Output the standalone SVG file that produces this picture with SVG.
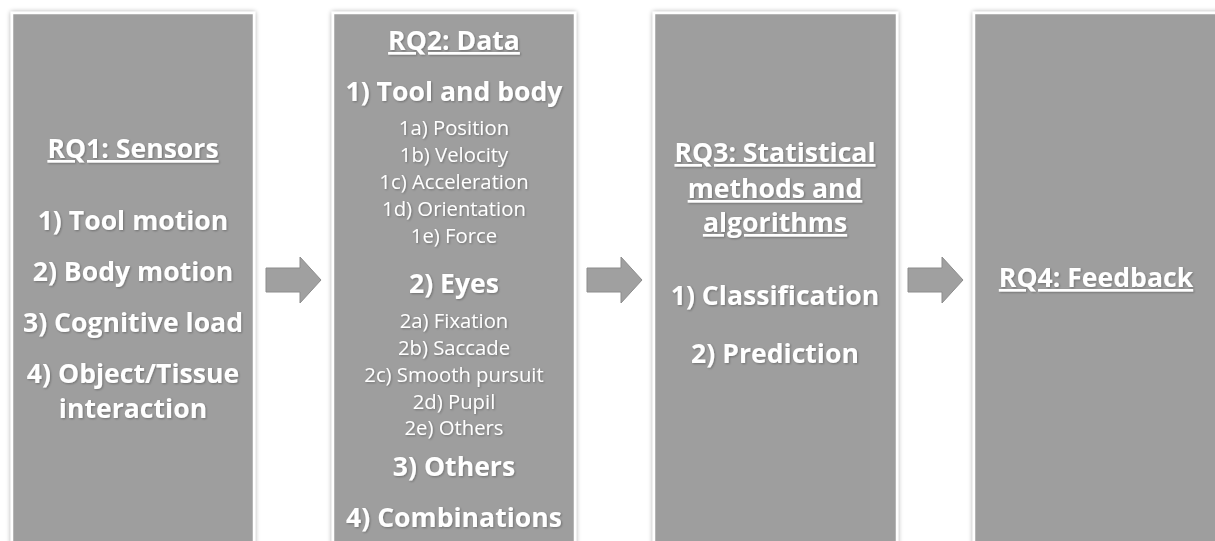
<svg xmlns="http://www.w3.org/2000/svg" width="1215" height="541" viewBox="0 0 1215 541">
<defs>
<filter id="sh" x="-10%" y="-10%" width="120%" height="120%">
<feGaussianBlur in="SourceAlpha" stdDeviation="2.5"/>
<feOffset dx="0" dy="0" result="b"/>
<feComponentTransfer><feFuncA type="linear" slope="0.35"/></feComponentTransfer>
<feMerge><feMergeNode/><feMergeNode in="SourceGraphic"/></feMerge>
</filter>
<filter id="ts" x="-5%" y="-20%" width="110%" height="140%">
<feGaussianBlur in="SourceAlpha" stdDeviation="0.8"/>
<feOffset dx="1" dy="1"/>
<feComponentTransfer><feFuncA type="linear" slope="0.3"/></feComponentTransfer>
<feMerge><feMergeNode/><feMergeNode in="SourceGraphic"/></feMerge>
</filter>
</defs>
<style>
.box{fill:#9e9e9e;stroke:#ffffff;stroke-width:2.5;filter:url(#sh)}
.arrow{fill:#a0a0a0;stroke:#8c8c8c;stroke-width:1}
text{font-family:"Open Sans",Lato,sans-serif;fill:#ffffff;text-anchor:middle}
.t{font-weight:bold;font-size:26.6px;text-decoration:underline}
.h{font-weight:bold;font-size:26.6px}
.s{font-size:20.3px}
</style>
<rect width="1215" height="541" fill="#ffffff"/>
<g id="connectors">
<polygon class="arrow" points="266,268 300,268 300,257 321,280 300,303 300,292 266,292"/>
<polygon class="arrow" points="587,268 621,268 621,257 642,280 621,303 621,292 587,292"/>
<polygon class="arrow" points="908,268 942,268 942,257 963,280 942,303 942,292 908,292"/>
</g>
<g id="rq1">
<rect class="box" x="12" y="13" width="242" height="540"/>
<g filter="url(#ts)">
<text class="t" x="133" y="158">RQ1: Sensors</text>
<text class="h" x="133" y="230">1) Tool motion</text>
<text class="h" x="133" y="281">2) Body motion</text>
<text class="h" x="133" y="332">3) Cognitive load</text>
<text class="h" x="133" y="383">4) Object/Tissue</text>
<text class="h" x="133" y="418">interaction</text>
</g>
</g>
<g id="rq2">
<rect class="box" x="333" y="13" width="242" height="540"/>
<g filter="url(#ts)">
<text class="t" x="454" y="50">RQ2: Data</text>
<text class="h" x="454" y="101">1) Tool and body</text>
<text class="s" x="454" y="135">1a) Position</text>
<text class="s" x="454" y="162">1b) Velocity</text>
<text class="s" x="454" y="189">1c) Acceleration</text>
<text class="s" x="454" y="216">1d) Orientation</text>
<text class="s" x="454" y="243">1e) Force</text>
<text class="h" x="454" y="293">2) Eyes</text>
<text class="s" x="454" y="328">2a) Fixation</text>
<text class="s" x="454" y="355">2b) Saccade</text>
<text class="s" x="454" y="382">2c) Smooth pursuit</text>
<text class="s" x="454" y="409">2d) Pupil</text>
<text class="s" x="454" y="435">2e) Others</text>
<text class="h" x="454" y="476">3) Others</text>
<text class="h" x="454" y="527">4) Combinations</text>
</g>
</g>
<g id="rq3">
<rect class="box" x="654" y="13" width="243" height="540"/>
<g filter="url(#ts)">
<text class="t" x="775" y="162">RQ3: Statistical</text>
<text class="t" x="775" y="198">methods and</text>
<text class="t" x="775" y="232">algorithms</text>
<text class="h" x="775" y="305">1) Classification</text>
<text class="h" x="775" y="363">2) Prediction</text>
</g>
</g>
<g id="rq4">
<rect class="box" x="974" y="13" width="260" height="540"/>
<g filter="url(#ts)">
<text class="t" x="1096" y="287">RQ4: Feedback</text>
</g>
</g>
</svg>
